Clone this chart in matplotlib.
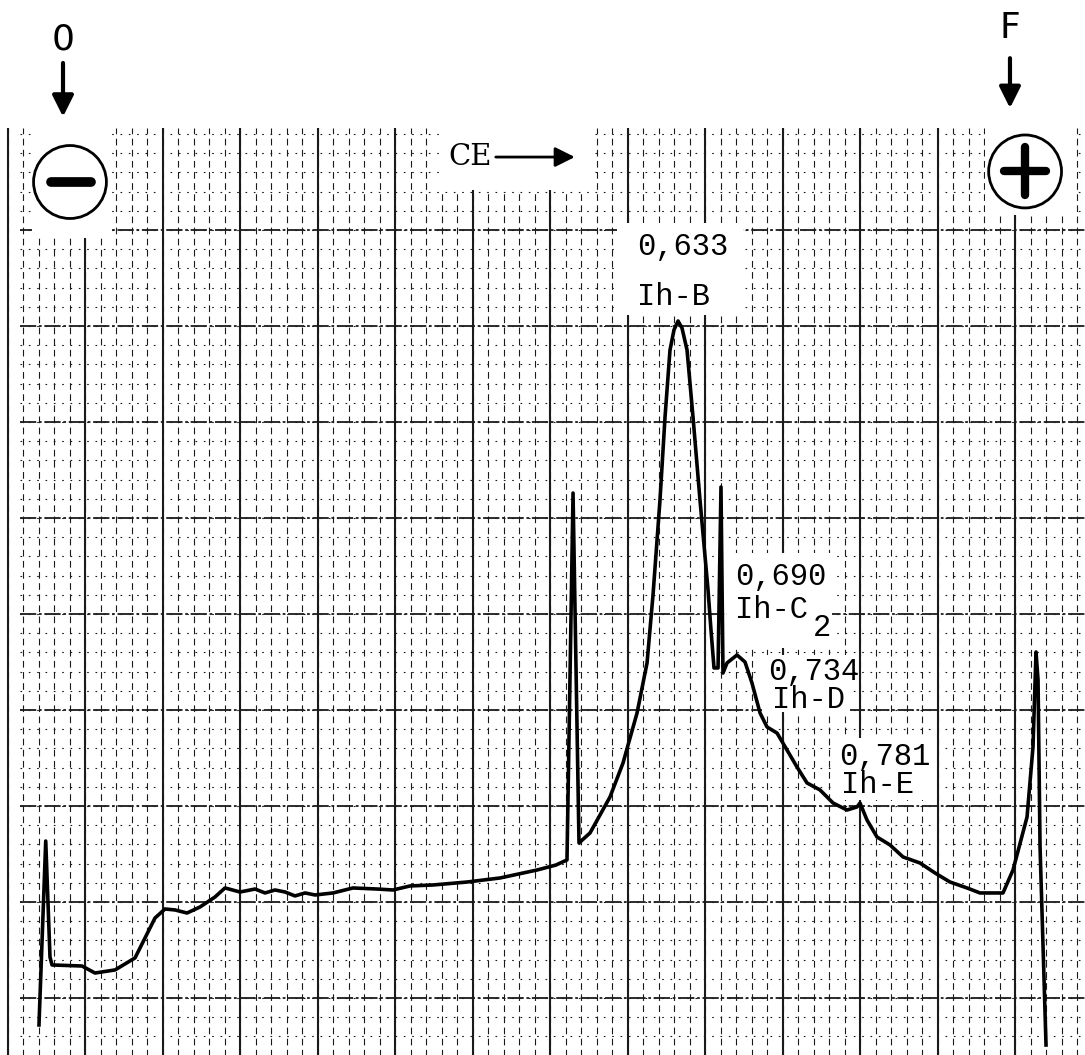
import numpy as np
import matplotlib
matplotlib.use('Agg')
import matplotlib.pyplot as plt
from matplotlib.patches import Ellipse, Rectangle

# densitometer trace
# x: migration along the strip (chart divisions), y: absorbance (chart divisions)
pos = [-5.94, -5.07, -4.52, -4.26, -0.39, 1.29, 3.87, 6.45, 7.74, 9.03,
       10.32, 11.61, 13.16, 14.84, 16.77, 18.06, 20.0, 21.94, 23.23, 24.52,
       25.81, 27.10, 28.39, 29.68, 32.0, 34.58, 37.68, 39.74, 41.94, 44.9,
       49.29, 53.55, 58.32, 60.77, 62.19, 62.97, 63.74, 65.16, 66.45, 67.74,
       69.42, 71.23, 72.52, 73.29, 74.19, 74.84, 75.48, 76.0, 76.52, 77.03,
       77.68, 78.45, 79.35, 80.39, 80.77, 81.16, 81.68, 82.06, 82.32, 82.84,
       84.13, 85.16, 86.06, 87.10, 88.0, 89.29, 90.58, 91.87, 93.16, 94.84,
       96.52, 98.32, 99.61, 100.0, 100.9, 102.19, 103.87, 105.55, 107.74, 109.68,
       111.61, 113.81, 115.48, 118.45, 119.74, 121.55, 122.32, 122.71, 122.97, 123.23,
       124.0]
absorb = [-2.81, 16.35, 4.27, 3.44, 3.33, 2.60, 2.92, 4.17, 6.25, 8.33,
          9.27, 9.17, 8.85, 9.48, 10.52, 11.46, 11.04, 11.35, 10.94, 11.25,
          11.04, 10.63, 10.94, 10.73, 10.94, 11.46, 11.35, 11.25, 11.67, 11.77,
          12.08, 12.5, 13.33, 13.85, 14.38, 52.6, 16.15, 17.19, 19.06, 20.94,
          24.48, 29.69, 34.9, 41.98, 51.88, 60.52, 67.5, 69.6, 70.52, 69.79,
          67.5, 60.52, 51.88, 42.5, 38.33, 34.38, 34.38, 53.23, 33.85, 34.9,
          35.73, 35.0, 32.81, 29.69, 28.23, 27.6, 25.83, 24.06, 22.4, 21.67,
          20.31, 19.58, 19.9, 20.31, 18.54, 16.77, 15.94, 14.69, 14.06, 13.02,
          12.08, 11.46, 10.94, 10.94, 13.33, 18.85, 26.15, 36.04, 33.13, 15.73,
          -4.9]

# fraction values and band names
rf_values = ['0,633', '0,690', '0,734', '0,781']
band_names = ['Ih-B', 'Ih-C', 'Ih-D', 'Ih-E']
rf_xy = [(71.2, 78.2), (83.9, 43.9), (88.1, 34.0), (97.3, 25.1)]
name_xy = [(71.2, 73.0), (83.9, 40.4), (88.6, 31.0), (97.5, 22.2)]

# chart paper
major_x = np.arange(-10, 131, 10)
minor_x = np.arange(-10, 131, 2)
major_y = np.arange(0, 81, 10)
minor_y = np.arange(-4, 91, 2)

fig = plt.figure(figsize=(10.85, 10.55), dpi=100)
ax = fig.add_axes([0, 0, 1, 1])
ax.set_xlim(-10.97, 129.03)
ax.set_ylim(-5.94, 103.96)
ax.axis('off')

ink = '#1a1a1a'
ax.vlines(minor_x, -6, 90.6, color=ink, lw=0.8, linestyles=(0, (6, 4)), zorder=1)
ax.vlines(major_x, -6, 90.6, color=ink, lw=1.5, zorder=1)
ax.hlines(minor_y, -8.4, 130, color=ink, lw=0.8, linestyles=(0, (1.5, 6)), zorder=1)
ax.hlines(major_y, -8.4, 130, color=ink, lw=1.3, linestyles=(0, (9, 1.5, 1.5, 1.5)), zorder=1)

# blank patches on the paper around the labels
for (x0, y0, w, h) in [(-6.8, 79.2, 10.0, 12), (45.8, 84.2, 19.4, 7), (116.1, 81.6, 11.6, 10),
                       (68.6, 71.1, 16.3, 9.6), (82.8, 36.5, 13.6, 9.9), (87.4, 29.8, 11.3, 5.9),
                       (96.8, 20.6, 12.9, 6.5)]:
    ax.add_patch(Rectangle((x0, y0), w, h, facecolor='white', edgecolor='none', zorder=2))

ax.plot(pos, absorb, color='black', lw=2.6, solid_joinstyle='round', zorder=3)

mono = 'Liberation Mono'
for txt, (x, y) in zip(rf_values, rf_xy):
    ax.text(x, y, txt, family=mono, fontsize=22, ha='left', va='center', zorder=4)
for txt, (x, y) in zip(band_names, name_xy):
    ax.text(x, y, txt, family=mono, fontsize=22, ha='left', va='center', zorder=4)
ax.text(95.1, 38.5, '2', family=mono, fontsize=22, ha='center', va='center', zorder=4)

# electrodes and start / front marks
ax.text(-2.84, 99.8, '0', family='DejaVu Sans', fontsize=26, ha='center', va='center')
ax.text(119.35, 101.0, 'F', family='DejaVu Sans', fontsize=26, ha='center', va='center')
arrow = dict(arrowstyle='-|>', lw=3, mutation_scale=32, color='black', shrinkA=0, shrinkB=0)
ax.annotate('', xy=(-2.84, 91.8), xytext=(-2.84, 97.4), arrowprops=arrow)
ax.annotate('', xy=(119.35, 92.7), xytext=(119.35, 97.9), arrowprops=arrow)

ax.add_patch(Ellipse((-1.94, 85.0), 9.4, 7.6, facecolor='white', edgecolor='black', lw=2, zorder=4))
ax.plot([-4.4, 0.8], [85.0, 85.0], color='black', lw=7, solid_capstyle='round', zorder=5)
ax.add_patch(Ellipse((121.3, 86.1), 9.4, 7.6, facecolor='white', edgecolor='black', lw=2, zorder=4))
ax.plot([118.6, 124.0], [86.1, 86.1], color='black', lw=6, solid_capstyle='round', zorder=5)
ax.plot([121.3, 121.3], [83.6, 88.6], color='black', lw=6, solid_capstyle='round', zorder=5)

ax.text(49.7, 87.6, 'CE', family='DejaVu Serif', fontsize=21, ha='center', va='center', zorder=4)
ax.annotate('', xy=(63.2, 87.6), xytext=(53.0, 87.6),
            arrowprops=dict(arrowstyle='-|>', lw=2, mutation_scale=30, color='black',
                            shrinkA=0, shrinkB=0), zorder=4)

fig.savefig('out.png', dpi=100)
